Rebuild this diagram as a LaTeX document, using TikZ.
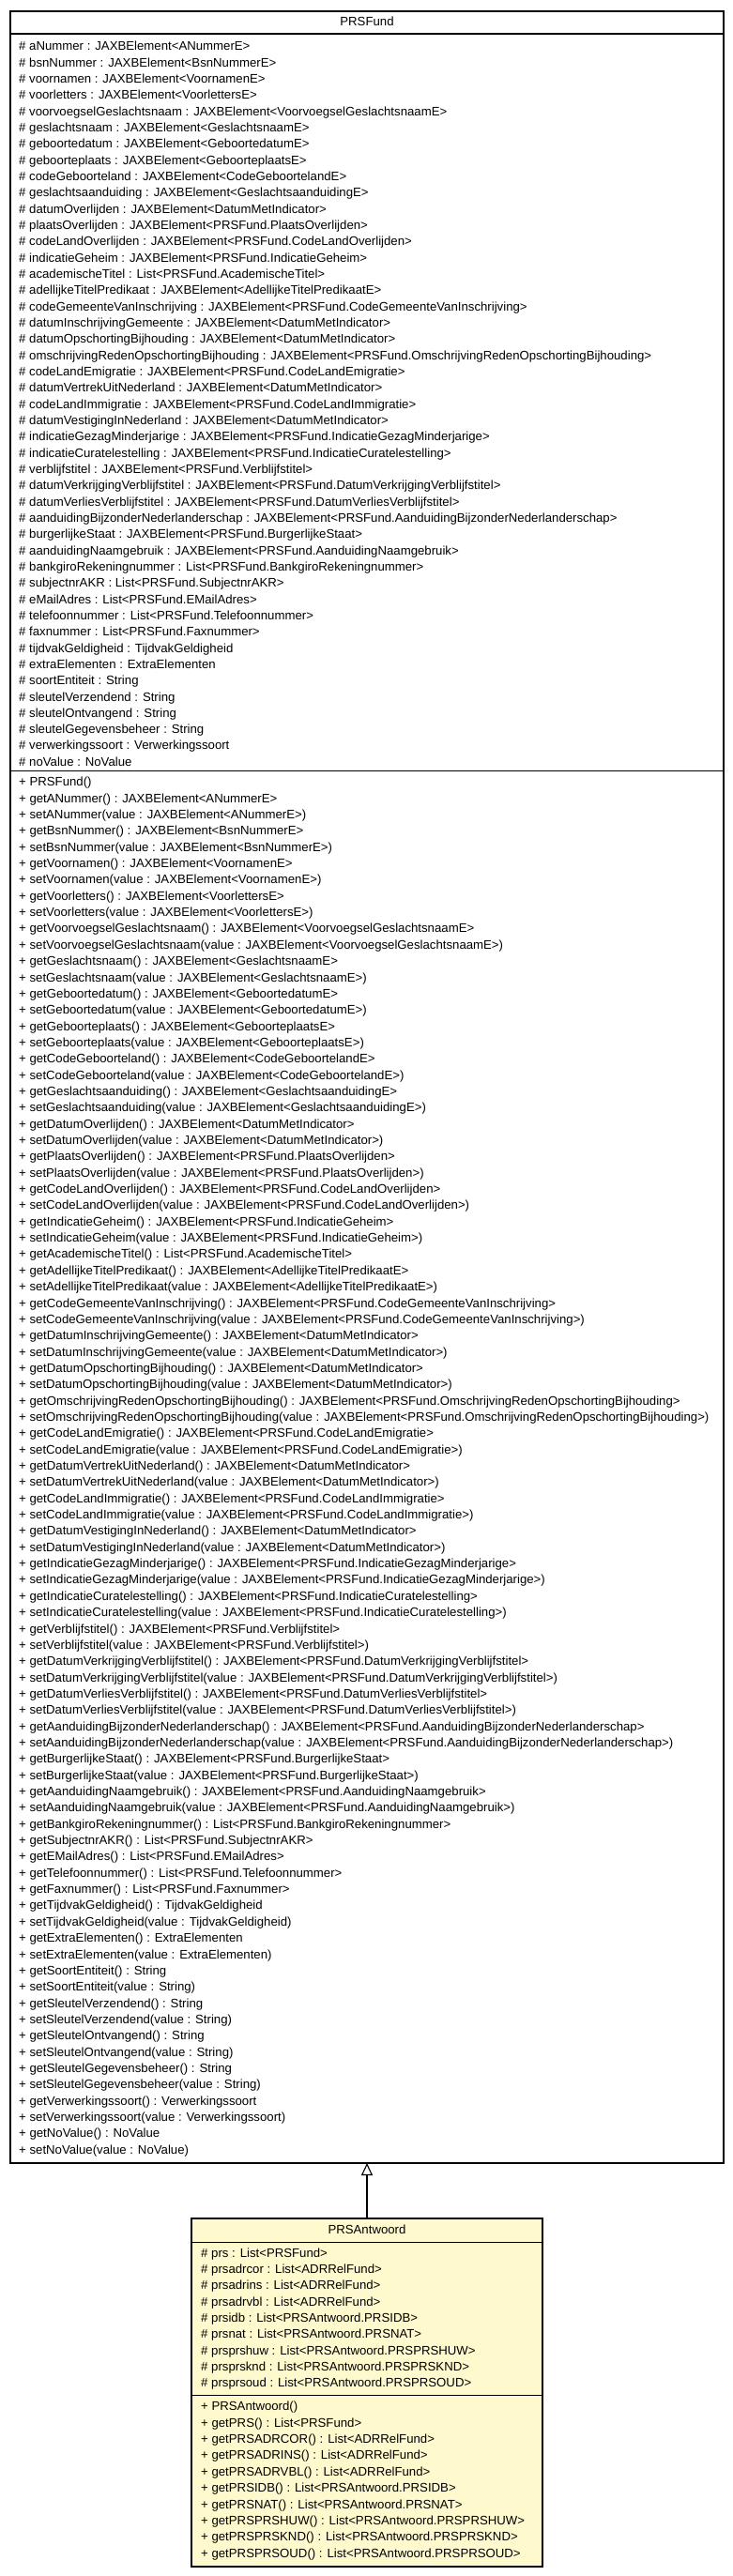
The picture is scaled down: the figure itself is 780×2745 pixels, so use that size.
\documentclass[tikz,border=0pt]{standalone}
\usepackage{fontspec}
\setmainfont{Liberation Sans}
\usetikzlibrary{arrows.meta}
\definecolor{antwfill}{RGB}{255,250,205}
\begin{document}
\begin{tikzpicture}[x=1pt,y=-1pt,
  member/.style={anchor=base west, inner sep=0pt, font=\fontsize{13.2}{15}\selectfont},
  ctitle/.style={anchor=base, inner sep=0pt, font=\fontsize{13.2}{15}\selectfont},
  classbox/.style={draw=black, line width=1.2pt, anchor=north west, inner sep=0pt, outer sep=0pt},
  sepline/.style={line width=1.2pt},
  inherit/.style={line width=1.1pt, -{Triangle[open, length=13pt, width=12pt, line width=1.1pt]}}]
\useasboundingbox (0,0) rectangle (780,2745);
% PRSFund
\node[classbox, fill=white, minimum width=760pt, minimum height=2293pt] (fund) at (11,12) {};
\node[ctitle] (fundtitle) at (391,28) {PRSFund};
\draw[sepline] (11,36) -- (771,36);
\draw[sepline] (11,821.5) -- (771,821.5);
\foreach \t [count=\i from 0] in {
{\# aNummer : JAXBElement<ANummerE>},
{\# bsnNummer : JAXBElement<BsnNummerE>},
{\# voornamen : JAXBElement<VoornamenE>},
{\# voorletters : JAXBElement<VoorlettersE>},
{\# voorvoegselGeslachtsnaam : JAXBElement<VoorvoegselGeslachtsnaamE>},
{\# geslachtsnaam : JAXBElement<GeslachtsnaamE>},
{\# geboortedatum : JAXBElement<GeboortedatumE>},
{\# geboorteplaats : JAXBElement<GeboorteplaatsE>},
{\# codeGeboorteland : JAXBElement<CodeGeboortelandE>},
{\# geslachtsaanduiding : JAXBElement<GeslachtsaanduidingE>},
{\# datumOverlijden : JAXBElement<DatumMetIndicator>},
{\# plaatsOverlijden : JAXBElement<PRSFund.PlaatsOverlijden>},
{\# codeLandOverlijden : JAXBElement<PRSFund.CodeLandOverlijden>},
{\# indicatieGeheim : JAXBElement<PRSFund.IndicatieGeheim>},
{\# academischeTitel : List<PRSFund.AcademischeTitel>},
{\# adellijkeTitelPredikaat : JAXBElement<AdellijkeTitelPredikaatE>},
{\# codeGemeenteVanInschrijving : JAXBElement<PRSFund.CodeGemeenteVanInschrijving>},
{\# datumInschrijvingGemeente : JAXBElement<DatumMetIndicator>},
{\# datumOpschortingBijhouding : JAXBElement<DatumMetIndicator>},
{\# omschrijvingRedenOpschortingBijhouding : JAXBElement<PRSFund.OmschrijvingRedenOpschortingBijhouding>},
{\# codeLandEmigratie : JAXBElement<PRSFund.CodeLandEmigratie>},
{\# datumVertrekUitNederland : JAXBElement<DatumMetIndicator>},
{\# codeLandImmigratie : JAXBElement<PRSFund.CodeLandImmigratie>},
{\# datumVestigingInNederland : JAXBElement<DatumMetIndicator>},
{\# indicatieGezagMinderjarige : JAXBElement<PRSFund.IndicatieGezagMinderjarige>},
{\# indicatieCuratelestelling : JAXBElement<PRSFund.IndicatieCuratelestelling>},
{\# verblijfstitel : JAXBElement<PRSFund.Verblijfstitel>},
{\# datumVerkrijgingVerblijfstitel : JAXBElement<PRSFund.DatumVerkrijgingVerblijfstitel>},
{\# datumVerliesVerblijfstitel : JAXBElement<PRSFund.DatumVerliesVerblijfstitel>},
{\# aanduidingBijzonderNederlanderschap : JAXBElement<PRSFund.AanduidingBijzonderNederlanderschap>},
{\# burgerlijkeStaat : JAXBElement<PRSFund.BurgerlijkeStaat>},
{\# aanduidingNaamgebruik : JAXBElement<PRSFund.AanduidingNaamgebruik>},
{\# bankgiroRekeningnummer : List<PRSFund.BankgiroRekeningnummer>},
{\# subjectnrAKR : List<PRSFund.SubjectnrAKR>},
{\# eMailAdres : List<PRSFund.EMailAdres>},
{\# telefoonnummer : List<PRSFund.Telefoonnummer>},
{\# faxnummer : List<PRSFund.Faxnummer>},
{\# tijdvakGeldigheid : TijdvakGeldigheid},
{\# extraElementen : ExtraElementen},
{\# soortEntiteit : String},
{\# sleutelVerzendend : String},
{\# sleutelOntvangend : String},
{\# sleutelGegevensbeheer : String},
{\# verwerkingssoort : Verwerkingssoort},
{\# noValue : NoValue}}
  \node[member] (fa\i) at (20, 53.8+17.33*\i) {\t};
\foreach \t [count=\i from 0] in {
{+ PRSFund()},
{+ getANummer() : JAXBElement<ANummerE>},
{+ setANummer(value : JAXBElement<ANummerE>)},
{+ getBsnNummer() : JAXBElement<BsnNummerE>},
{+ setBsnNummer(value : JAXBElement<BsnNummerE>)},
{+ getVoornamen() : JAXBElement<VoornamenE>},
{+ setVoornamen(value : JAXBElement<VoornamenE>)},
{+ getVoorletters() : JAXBElement<VoorlettersE>},
{+ setVoorletters(value : JAXBElement<VoorlettersE>)},
{+ getVoorvoegselGeslachtsnaam() : JAXBElement<VoorvoegselGeslachtsnaamE>},
{+ setVoorvoegselGeslachtsnaam(value : JAXBElement<VoorvoegselGeslachtsnaamE>)},
{+ getGeslachtsnaam() : JAXBElement<GeslachtsnaamE>},
{+ setGeslachtsnaam(value : JAXBElement<GeslachtsnaamE>)},
{+ getGeboortedatum() : JAXBElement<GeboortedatumE>},
{+ setGeboortedatum(value : JAXBElement<GeboortedatumE>)},
{+ getGeboorteplaats() : JAXBElement<GeboorteplaatsE>},
{+ setGeboorteplaats(value : JAXBElement<GeboorteplaatsE>)},
{+ getCodeGeboorteland() : JAXBElement<CodeGeboortelandE>},
{+ setCodeGeboorteland(value : JAXBElement<CodeGeboortelandE>)},
{+ getGeslachtsaanduiding() : JAXBElement<GeslachtsaanduidingE>},
{+ setGeslachtsaanduiding(value : JAXBElement<GeslachtsaanduidingE>)},
{+ getDatumOverlijden() : JAXBElement<DatumMetIndicator>},
{+ setDatumOverlijden(value : JAXBElement<DatumMetIndicator>)},
{+ getPlaatsOverlijden() : JAXBElement<PRSFund.PlaatsOverlijden>},
{+ setPlaatsOverlijden(value : JAXBElement<PRSFund.PlaatsOverlijden>)},
{+ getCodeLandOverlijden() : JAXBElement<PRSFund.CodeLandOverlijden>},
{+ setCodeLandOverlijden(value : JAXBElement<PRSFund.CodeLandOverlijden>)},
{+ getIndicatieGeheim() : JAXBElement<PRSFund.IndicatieGeheim>},
{+ setIndicatieGeheim(value : JAXBElement<PRSFund.IndicatieGeheim>)},
{+ getAcademischeTitel() : List<PRSFund.AcademischeTitel>},
{+ getAdellijkeTitelPredikaat() : JAXBElement<AdellijkeTitelPredikaatE>},
{+ setAdellijkeTitelPredikaat(value : JAXBElement<AdellijkeTitelPredikaatE>)},
{+ getCodeGemeenteVanInschrijving() : JAXBElement<PRSFund.CodeGemeenteVanInschrijving>},
{+ setCodeGemeenteVanInschrijving(value : JAXBElement<PRSFund.CodeGemeenteVanInschrijving>)},
{+ getDatumInschrijvingGemeente() : JAXBElement<DatumMetIndicator>},
{+ setDatumInschrijvingGemeente(value : JAXBElement<DatumMetIndicator>)},
{+ getDatumOpschortingBijhouding() : JAXBElement<DatumMetIndicator>},
{+ setDatumOpschortingBijhouding(value : JAXBElement<DatumMetIndicator>)},
{+ getOmschrijvingRedenOpschortingBijhouding() : JAXBElement<PRSFund.OmschrijvingRedenOpschortingBijhouding>},
{+ setOmschrijvingRedenOpschortingBijhouding(value : JAXBElement<PRSFund.OmschrijvingRedenOpschortingBijhouding>)},
{+ getCodeLandEmigratie() : JAXBElement<PRSFund.CodeLandEmigratie>},
{+ setCodeLandEmigratie(value : JAXBElement<PRSFund.CodeLandEmigratie>)},
{+ getDatumVertrekUitNederland() : JAXBElement<DatumMetIndicator>},
{+ setDatumVertrekUitNederland(value : JAXBElement<DatumMetIndicator>)},
{+ getCodeLandImmigratie() : JAXBElement<PRSFund.CodeLandImmigratie>},
{+ setCodeLandImmigratie(value : JAXBElement<PRSFund.CodeLandImmigratie>)},
{+ getDatumVestigingInNederland() : JAXBElement<DatumMetIndicator>},
{+ setDatumVestigingInNederland(value : JAXBElement<DatumMetIndicator>)},
{+ getIndicatieGezagMinderjarige() : JAXBElement<PRSFund.IndicatieGezagMinderjarige>},
{+ setIndicatieGezagMinderjarige(value : JAXBElement<PRSFund.IndicatieGezagMinderjarige>)},
{+ getIndicatieCuratelestelling() : JAXBElement<PRSFund.IndicatieCuratelestelling>},
{+ setIndicatieCuratelestelling(value : JAXBElement<PRSFund.IndicatieCuratelestelling>)},
{+ getVerblijfstitel() : JAXBElement<PRSFund.Verblijfstitel>},
{+ setVerblijfstitel(value : JAXBElement<PRSFund.Verblijfstitel>)},
{+ getDatumVerkrijgingVerblijfstitel() : JAXBElement<PRSFund.DatumVerkrijgingVerblijfstitel>},
{+ setDatumVerkrijgingVerblijfstitel(value : JAXBElement<PRSFund.DatumVerkrijgingVerblijfstitel>)},
{+ getDatumVerliesVerblijfstitel() : JAXBElement<PRSFund.DatumVerliesVerblijfstitel>},
{+ setDatumVerliesVerblijfstitel(value : JAXBElement<PRSFund.DatumVerliesVerblijfstitel>)},
{+ getAanduidingBijzonderNederlanderschap() : JAXBElement<PRSFund.AanduidingBijzonderNederlanderschap>},
{+ setAanduidingBijzonderNederlanderschap(value : JAXBElement<PRSFund.AanduidingBijzonderNederlanderschap>)},
{+ getBurgerlijkeStaat() : JAXBElement<PRSFund.BurgerlijkeStaat>},
{+ setBurgerlijkeStaat(value : JAXBElement<PRSFund.BurgerlijkeStaat>)},
{+ getAanduidingNaamgebruik() : JAXBElement<PRSFund.AanduidingNaamgebruik>},
{+ setAanduidingNaamgebruik(value : JAXBElement<PRSFund.AanduidingNaamgebruik>)},
{+ getBankgiroRekeningnummer() : List<PRSFund.BankgiroRekeningnummer>},
{+ getSubjectnrAKR() : List<PRSFund.SubjectnrAKR>},
{+ getEMailAdres() : List<PRSFund.EMailAdres>},
{+ getTelefoonnummer() : List<PRSFund.Telefoonnummer>},
{+ getFaxnummer() : List<PRSFund.Faxnummer>},
{+ getTijdvakGeldigheid() : TijdvakGeldigheid},
{+ setTijdvakGeldigheid(value : TijdvakGeldigheid)},
{+ getExtraElementen() : ExtraElementen},
{+ setExtraElementen(value : ExtraElementen)},
{+ getSoortEntiteit() : String},
{+ setSoortEntiteit(value : String)},
{+ getSleutelVerzendend() : String},
{+ setSleutelVerzendend(value : String)},
{+ getSleutelOntvangend() : String},
{+ setSleutelOntvangend(value : String)},
{+ getSleutelGegevensbeheer() : String},
{+ setSleutelGegevensbeheer(value : String)},
{+ getVerwerkingssoort() : Verwerkingssoort},
{+ setVerwerkingssoort(value : Verwerkingssoort)},
{+ getNoValue() : NoValue},
{+ setNoValue(value : NoValue)}}
  \node[member] (fm\i) at (20, 837.8+17.35*\i) {\t};
% PRSAntwoord
\node[classbox, fill=antwfill, minimum width=374pt, minimum height=371pt] (antw) at (204,2364) {};
\node[ctitle] (antwtitle) at (391,2380) {PRSAntwoord};
\draw[sepline] (204,2389.5) -- (578,2389.5);
\draw[sepline] (204,2552.7) -- (578,2552.7);
\foreach \t [count=\i from 0] in {
{\# prs : List<PRSFund>},
{\# prsadrcor : List<ADRRelFund>},
{\# prsadrins : List<ADRRelFund>},
{\# prsadrvbl : List<ADRRelFund>},
{\# prsidb : List<PRSAntwoord.PRSIDB>},
{\# prsnat : List<PRSAntwoord.PRSNAT>},
{\# prsprshuw : List<PRSAntwoord.PRSPRSHUW>},
{\# prsprsknd : List<PRSAntwoord.PRSPRSKND>},
{\# prsprsoud : List<PRSAntwoord.PRSPRSOUD>}}
  \node[member] (aa\i) at (214, 2405.2+17.33*\i) {\t};
\foreach \t [count=\i from 0] in {
{+ PRSAntwoord()},
{+ getPRS() : List<PRSFund>},
{+ getPRSADRCOR() : List<ADRRelFund>},
{+ getPRSADRINS() : List<ADRRelFund>},
{+ getPRSADRVBL() : List<ADRRelFund>},
{+ getPRSIDB() : List<PRSAntwoord.PRSIDB>},
{+ getPRSNAT() : List<PRSAntwoord.PRSNAT>},
{+ getPRSPRSHUW() : List<PRSAntwoord.PRSPRSHUW>},
{+ getPRSPRSKND() : List<PRSAntwoord.PRSPRSKND>},
{+ getPRSPRSOUD() : List<PRSAntwoord.PRSPRSOUD>}}
  \node[member] (am\i) at (214, 2568.8+17.37*\i) {\t};
% inheritance
\draw[inherit] (antw.north) -- (fund.south);
\end{tikzpicture}
\end{document}
